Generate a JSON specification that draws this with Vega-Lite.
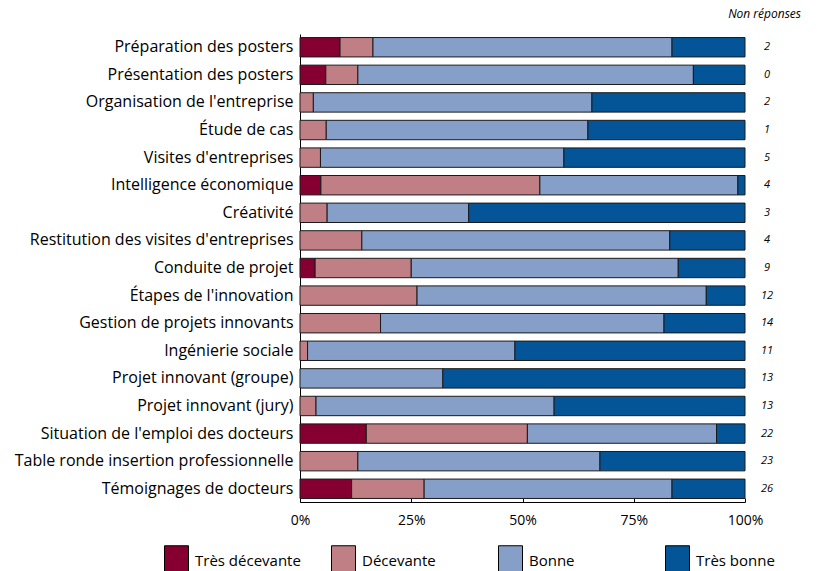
{
  "$schema": "https://vega.github.io/schema/vega-lite/v6.json",
  "autosize": {"type": "none"},
  "padding": {"left": 300, "top": 34, "right": 81, "bottom": 69},
  "width": 445,
  "height": 468,
  "config": {
    "font": "Open Sans",
    "view": {"stroke": null},
    "axis": {"labelColor": "black", "domainColor": "black", "tickColor": "black", "grid": false}
  },
  "title": {"text": "Non réponses", "anchor": "end", "fontStyle": "italic", "fontSize": 12, "fontWeight": "normal", "dx": 26, "offset": 13, "color": "black", "font": "Open Sans"},
  "datasets": {
    "rates": [
      {"q": "Préparation des posters", "cat": "Très décevante", "o": 1, "v": 9.0},
      {"q": "Préparation des posters", "cat": "Décevante", "o": 2, "v": 7.4},
      {"q": "Préparation des posters", "cat": "Bonne", "o": 3, "v": 67.2},
      {"q": "Préparation des posters", "cat": "Très bonne", "o": 4, "v": 16.4},
      {"q": "Présentation des posters", "cat": "Très décevante", "o": 1, "v": 5.8},
      {"q": "Présentation des posters", "cat": "Décevante", "o": 2, "v": 7.2},
      {"q": "Présentation des posters", "cat": "Bonne", "o": 3, "v": 75.4},
      {"q": "Présentation des posters", "cat": "Très bonne", "o": 4, "v": 11.6},
      {"q": "Organisation de l'entreprise", "cat": "Décevante", "o": 2, "v": 3.0},
      {"q": "Organisation de l'entreprise", "cat": "Bonne", "o": 3, "v": 62.6},
      {"q": "Organisation de l'entreprise", "cat": "Très bonne", "o": 4, "v": 34.4},
      {"q": "Étude de cas", "cat": "Décevante", "o": 2, "v": 5.9},
      {"q": "Étude de cas", "cat": "Bonne", "o": 3, "v": 58.8},
      {"q": "Étude de cas", "cat": "Très bonne", "o": 4, "v": 35.3},
      {"q": "Visites d'entreprises", "cat": "Décevante", "o": 2, "v": 4.6},
      {"q": "Visites d'entreprises", "cat": "Bonne", "o": 3, "v": 54.7},
      {"q": "Visites d'entreprises", "cat": "Très bonne", "o": 4, "v": 40.7},
      {"q": "Intelligence économique", "cat": "Très décevante", "o": 1, "v": 4.7},
      {"q": "Intelligence économique", "cat": "Décevante", "o": 2, "v": 49.2},
      {"q": "Intelligence économique", "cat": "Bonne", "o": 3, "v": 44.5},
      {"q": "Intelligence économique", "cat": "Très bonne", "o": 4, "v": 1.6},
      {"q": "Créativité", "cat": "Décevante", "o": 2, "v": 6.1},
      {"q": "Créativité", "cat": "Bonne", "o": 3, "v": 31.8},
      {"q": "Créativité", "cat": "Très bonne", "o": 4, "v": 62.1},
      {"q": "Restitution des visites d'entreprises", "cat": "Décevante", "o": 2, "v": 13.9},
      {"q": "Restitution des visites d'entreprises", "cat": "Bonne", "o": 3, "v": 69.2},
      {"q": "Restitution des visites d'entreprises", "cat": "Très bonne", "o": 4, "v": 16.9},
      {"q": "Conduite de projet", "cat": "Très décevante", "o": 1, "v": 3.4},
      {"q": "Conduite de projet", "cat": "Décevante", "o": 2, "v": 21.6},
      {"q": "Conduite de projet", "cat": "Bonne", "o": 3, "v": 60.0},
      {"q": "Conduite de projet", "cat": "Très bonne", "o": 4, "v": 15.0},
      {"q": "Étapes de l'innovation", "cat": "Décevante", "o": 2, "v": 26.3},
      {"q": "Étapes de l'innovation", "cat": "Bonne", "o": 3, "v": 65.0},
      {"q": "Étapes de l'innovation", "cat": "Très bonne", "o": 4, "v": 8.7},
      {"q": "Gestion de projets innovants", "cat": "Décevante", "o": 2, "v": 18.1},
      {"q": "Gestion de projets innovants", "cat": "Bonne", "o": 3, "v": 63.7},
      {"q": "Gestion de projets innovants", "cat": "Très bonne", "o": 4, "v": 18.2},
      {"q": "Ingénierie sociale", "cat": "Décevante", "o": 2, "v": 1.7},
      {"q": "Ingénierie sociale", "cat": "Bonne", "o": 3, "v": 46.6},
      {"q": "Ingénierie sociale", "cat": "Très bonne", "o": 4, "v": 51.7},
      {"q": "Projet innovant (groupe)", "cat": "Bonne", "o": 3, "v": 32.1},
      {"q": "Projet innovant (groupe)", "cat": "Très bonne", "o": 4, "v": 67.9},
      {"q": "Projet innovant (jury)", "cat": "Décevante", "o": 2, "v": 3.6},
      {"q": "Projet innovant (jury)", "cat": "Bonne", "o": 3, "v": 53.5},
      {"q": "Projet innovant (jury)", "cat": "Très bonne", "o": 4, "v": 42.9},
      {"q": "Situation de l'emploi des docteurs", "cat": "Très décevante", "o": 1, "v": 14.9},
      {"q": "Situation de l'emploi des docteurs", "cat": "Décevante", "o": 2, "v": 36.2},
      {"q": "Situation de l'emploi des docteurs", "cat": "Bonne", "o": 3, "v": 42.5},
      {"q": "Situation de l'emploi des docteurs", "cat": "Très bonne", "o": 4, "v": 6.4},
      {"q": "Table ronde insertion professionnelle", "cat": "Décevante", "o": 2, "v": 13.0},
      {"q": "Table ronde insertion professionnelle", "cat": "Bonne", "o": 3, "v": 54.4},
      {"q": "Table ronde insertion professionnelle", "cat": "Très bonne", "o": 4, "v": 32.6},
      {"q": "Témoignages de docteurs", "cat": "Très décevante", "o": 1, "v": 11.6},
      {"q": "Témoignages de docteurs", "cat": "Décevante", "o": 2, "v": 16.3},
      {"q": "Témoignages de docteurs", "cat": "Bonne", "o": 3, "v": 55.7},
      {"q": "Témoignages de docteurs", "cat": "Très bonne", "o": 4, "v": 16.4}
    ],
    "nr": [
      {"q": "Préparation des posters", "n": "2"},
      {"q": "Présentation des posters", "n": "0"},
      {"q": "Organisation de l'entreprise", "n": "2"},
      {"q": "Étude de cas", "n": "1"},
      {"q": "Visites d'entreprises", "n": "5"},
      {"q": "Intelligence économique", "n": "4"},
      {"q": "Créativité", "n": "3"},
      {"q": "Restitution des visites d'entreprises", "n": "4"},
      {"q": "Conduite de projet", "n": "9"},
      {"q": "Étapes de l'innovation", "n": "12"},
      {"q": "Gestion de projets innovants", "n": "14"},
      {"q": "Ingénierie sociale", "n": "11"},
      {"q": "Projet innovant (groupe)", "n": "13"},
      {"q": "Projet innovant (jury)", "n": "13"},
      {"q": "Situation de l'emploi des docteurs", "n": "22"},
      {"q": "Table ronde insertion professionnelle", "n": "23"},
      {"q": "Témoignages de docteurs", "n": "26"}
    ]
  },
  "encoding": {
    "y": {
      "field": "q",
      "type": "nominal",
      "sort": ["Préparation des posters", "Présentation des posters", "Organisation de l'entreprise", "Étude de cas", "Visites d'entreprises", "Intelligence économique", "Créativité", "Restitution des visites d'entreprises", "Conduite de projet", "Étapes de l'innovation", "Gestion de projets innovants", "Ingénierie sociale", "Projet innovant (groupe)", "Projet innovant (jury)", "Situation de l'emploi des docteurs", "Table ronde insertion professionnelle", "Témoignages de docteurs"],
      "scale": {"paddingInner": 0.297, "paddingOuter": 0.128},
      "axis": {"title": null, "ticks": false, "labelFontSize": 16, "labelLimit": 400, "labelPadding": 7, "domainWidth": 1, "labelFont": "Open Sans"}
    }
  },
  "layer": [
    {
      "data": {"name": "rates"},
      "mark": {"type": "bar", "stroke": "#1a1a1a", "strokeWidth": 1},
      "encoding": {
        "x": {
          "field": "v",
          "type": "quantitative",
          "stack": "normalize",
          "scale": {"domain": [0, 1], "nice": false},
          "axis": {"title": null, "values": [0, 0.25, 0.5, 0.75, 1], "format": ".0%", "labelFontSize": 14, "tickSize": -4, "labelPadding": 15, "labelFlush": false, "labelOverlap": false, "labelFont": "Open Sans"}
        },
        "order": {"field": "o", "type": "quantitative"},
        "color": {
          "field": "cat",
          "type": "nominal",
          "scale": {"domain": ["Très décevante", "Décevante", "Bonne", "Très bonne"], "range": ["#850031", "#C07F84", "#869FC8", "#035597"]},
          "legend": {
            "title": null,
            "orient": "none",
            "legendX": -136,
            "legendY": 514,
            "direction": "horizontal",
            "columns": 4,
            "gridAlign": "all",
            "columnPadding": 28,
            "symbolType": "M-1,-1.25H1V1.25H-1Z",
            "symbolSize": 576,
            "symbolStrokeColor": "black",
            "symbolStrokeWidth": 1,
            "symbolOpacity": 1,
            "labelFontSize": 15,
            "labelFont": "Open Sans",
            "labelColor": "black",
            "labelOffset": 6
          }
        }
      }
    },
    {
      "data": {"name": "nr"},
      "mark": {"type": "text", "fontStyle": "italic", "fontSize": 11, "dx": 22, "align": "center", "baseline": "middle", "color": "black", "font": "Open Sans"},
      "encoding": {
        "x": {"datum": 1, "type": "quantitative"},
        "text": {"field": "n"}
      }
    }
  ]
}
